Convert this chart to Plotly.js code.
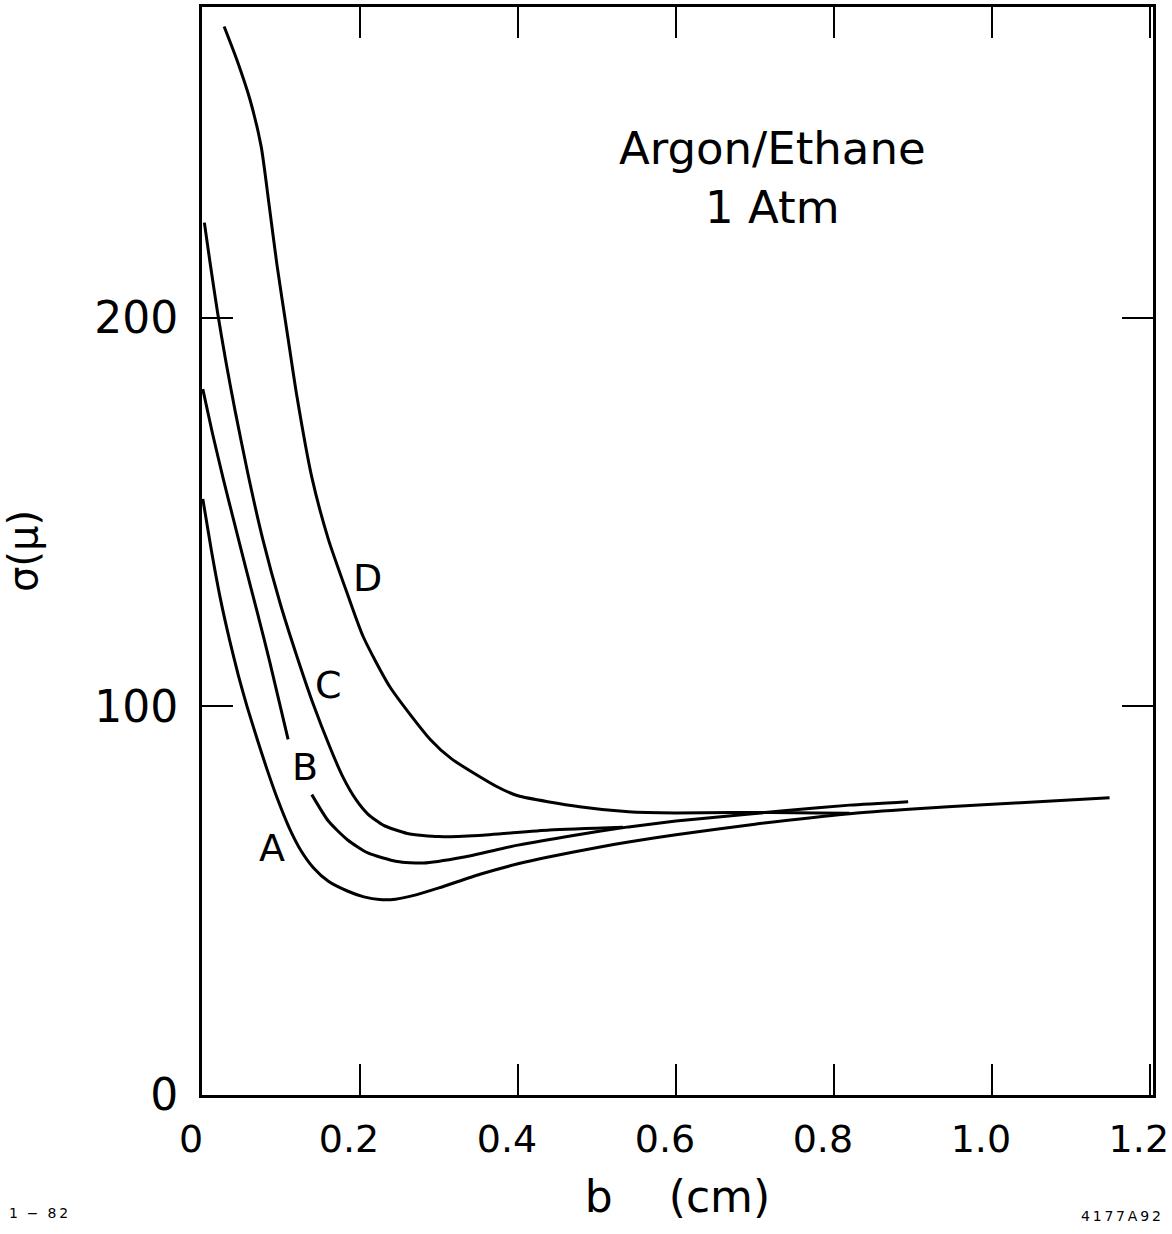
<!DOCTYPE html>
<html>
<head>
<meta charset="utf-8">
<script src="https://cdn.plot.ly/plotly-3.0.1.min.js"></script>
<style>html,body{margin:0;padding:0;background:#fff;}#chart{width:1172px;height:1234px;}</style>
</head>
<body>
<div id="chart"></div>
<script>
// Curve A
const xA = [0.001, 0.012, 0.023, 0.035, 0.046, 0.057, 0.070, 0.082, 0.095, 0.111, 0.125, 0.141, 0.160, 0.184, 0.205, 0.225, 0.245, 0.267, 0.300, 0.352, 0.400, 0.437, 0.504, 0.542, 0.600, 0.700, 0.820, 0.900, 0.989, 1.070, 1.149];
const yA = [153.4, 140.0, 128.0, 117.0, 108.0, 100.0, 91.5, 84.0, 76.5, 68.5, 63.0, 58.5, 55.0, 52.5, 51.0, 50.3, 50.4, 51.3, 53.3, 56.8, 59.5, 61.2, 63.8, 65.2, 67.0, 69.7, 72.4, 73.6, 74.7, 75.6, 76.5];
// Curve B (broken around its label)
const xB = [0.001, 0.013, 0.027, 0.040, 0.055, 0.070, 0.086, 0.109, 0.124, 0.139, 0.160, 0.184, 0.210, 0.247, 0.280, 0.330, 0.400, 0.470, 0.540, 0.600, 0.660, 0.740, 0.820, 0.894];
const yB = [181.7, 170.5, 158.5, 148.0, 136.0, 124.2, 111.3, 91.5, null, 77.3, 70.5, 65.7, 62.3, 60.1, 59.7, 61.2, 64.3, 66.8, 69.0, 70.5, 71.7, 73.2, 74.6, 75.5];
// Curve C
const xC = [0.003, 0.010, 0.020, 0.030, 0.042, 0.058, 0.077, 0.099, 0.120, 0.141, 0.162, 0.178, 0.195, 0.210, 0.230, 0.260, 0.300, 0.350, 0.440, 0.533];
const yC = [224.5, 214.5, 201.0, 189.0, 176.0, 160.0, 143.0, 126.5, 113.0, 100.5, 89.5, 82.0, 76.0, 72.3, 69.4, 67.3, 66.5, 66.8, 68.2, 68.9];
// Curve D
const xD = [0.028, 0.044, 0.061, 0.075, 0.085, 0.095, 0.108, 0.120, 0.139, 0.160, 0.184, 0.204, 0.238, 0.289, 0.316, 0.373, 0.400, 0.478, 0.540, 0.600, 0.670, 0.720, 0.780, 0.820];
const yD = [275.0, 266.5, 256.0, 244.0, 229.0, 213.5, 196.0, 180.0, 159.0, 143.0, 129.0, 118.0, 105.0, 91.5, 86.5, 79.4, 77.0, 74.2, 72.9, 72.6, 72.7, 72.7, 72.6, 72.5];

const curveLabels = ["A", "B", "C", "D"];
const labelX = [0.088, 0.131, 0.160, 0.210];
const labelY = [63.5, 84.5, 105.5, 133.0];

const xTickVals = [0, 0.2, 0.4, 0.6, 0.8, 1.0, 1.2];
const xTickText = ["0", "0.2", "0.4", "0.6", "0.8", "1.0", "1.2"];
const yTickVals = [0, 100, 200];
const yTickText = ["0", "100", "200"];

const FONT = "DejaVu Sans, sans-serif";
const line = {color: "#000", width: 3, shape: "spline", smoothing: 0.6};

const traces = [
  {x: xA, y: yA, name: "A"},
  {x: xB, y: yB, name: "B"},
  {x: xC, y: yC, name: "C"},
  {x: xD, y: yD, name: "D"}
].map(t => Object.assign(t, {type: "scatter", mode: "lines", line: line, connectgaps: false, hoverinfo: "x+y"}));

const annotations = curveLabels.map((t, i) => ({
  x: labelX[i], y: labelY[i], xref: "x", yref: "y", text: t, showarrow: false,
  font: {family: FONT, size: 38, color: "#000"}
}));
annotations.push(
  {x: 0.722, y: 236, xref: "x", yref: "y", text: "Argon/Ethane<br>1 Atm", showarrow: false, align: "center",
   font: {family: FONT, size: 45, color: "#000"}},
  {x: -0.205, y: -0.108, xref: "paper", yref: "paper", xanchor: "left", yanchor: "middle",
   showarrow: false, text: "1\u00a0\u00a0−\u00a0\u00a08\u20092", font: {family: FONT, size: 14, color: "#000"}},
  {x: 1.01, y: -0.111, xref: "paper", yref: "paper", xanchor: "right", yanchor: "middle",
   showarrow: false, text: "4\u20091\u20097\u20097\u2009A\u20099\u20092", font: {family: FONT, size: 14, color: "#000"}}
);

const layout = {
  width: 1172, height: 1234,
  margin: {l: 202, r: 19, t: 7, b: 139},
  paper_bgcolor: "#fff", plot_bgcolor: "#fff",
  showlegend: false,
  font: {family: FONT, color: "#000"},
  xaxis: {
    range: [0, 1.204], tickvals: xTickVals, ticktext: xTickText,
    ticks: "inside", ticklen: 31, tickwidth: 2, tickcolor: "#000",
    showline: true, linewidth: 3, linecolor: "#000", mirror: "ticks",
    showgrid: false, zeroline: false, ticklabelstandoff: 8, ticklabelshift: -11, ticklabeloverflow: "allow",
    tickfont: {family: FONT, size: 38, color: "#000"},
    title: {text: "b\u00a0\u00a0\u00a0\u00a0(cm)", font: {family: FONT, size: 44, color: "#000"}, standoff: 22}
  },
  yaxis: {
    range: [0, 280], tickvals: yTickVals, ticktext: yTickText,
    ticks: "inside", ticklen: 31, tickwidth: 2, tickcolor: "#000",
    showline: true, linewidth: 3, linecolor: "#000", mirror: "ticks",
    showgrid: false, zeroline: false, ticklabelstandoff: 12,
    tickfont: {family: FONT, size: 44, color: "#000"},
    title: {text: "σ(μ)", font: {family: FONT, size: 40, color: "#000"}, standoff: 50}
  },
  annotations: annotations
};

Plotly.newPlot("chart", traces, layout, {displayModeBar: false, staticPlot: true});
</script>
</body>
</html>
